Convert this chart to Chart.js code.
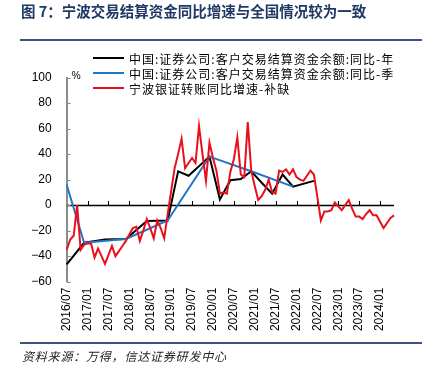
<!DOCTYPE html>
<html><head><meta charset="utf-8">
<script src="https://cdn.jsdelivr.net/npm/chart.js@4/dist/chart.umd.min.js"></script>
<style>
html,body{margin:0;padding:0;background:#fff;}
#wrap{position:relative;width:428px;height:379px;overflow:hidden;font-family:"Noto Sans CJK SC",sans-serif;}
#c{position:absolute;left:0;top:0;}
.title{position:absolute;left:21px;top:1px;font-size:14.5px;font-weight:bold;color:#1f3864;white-space:nowrap;line-height:20px;}
.rule{position:absolute;left:20px;width:402px;height:2px;background:#3b5282;}
.legend{position:absolute;left:93px;top:50.5px;font-size:12px;line-height:15px;color:#000;letter-spacing:1px;}
.legend div{display:flex;align-items:center;white-space:nowrap;height:15px;}
.legend span.sw{display:inline-block;width:31px;height:2px;margin-right:5px;}
.src{position:absolute;left:22px;top:348px;font-size:12px;line-height:16px;font-style:italic;color:#222;letter-spacing:0.8px;white-space:nowrap;}
</style></head>
<body>
<div id="wrap">
<canvas id="c" width="428" height="379" style="width:428px;height:379px;"></canvas>
<div class="title">图 7：宁波交易结算资金同比增速与全国情况较为一致</div>
<div class="rule" style="top:38.5px;"></div>
<div class="legend">
<div><span class="sw" style="background:#000"></span>中国:证券公司:客户交易结算资金余额:同比-年</div>
<div><span class="sw" style="background:#1f77c9"></span>中国:证券公司:客户交易结算资金余额:同比-季</div>
<div><span class="sw" style="background:#e8101e"></span>宁波银证转账同比增速-补缺</div>
</div>
<div class="rule" style="top:341.5px;"></div>
<div class="src">资料来源：万得，信达证券研发中心</div>
</div>
<script>
const labels = [
"2016/07","2016/08","2016/09","2016/10","2016/11","2016/12",
"2017/01","2017/02","2017/03","2017/04","2017/05","2017/06","2017/07","2017/08","2017/09","2017/10","2017/11","2017/12",
"2018/01","2018/02","2018/03","2018/04","2018/05","2018/06","2018/07","2018/08","2018/09","2018/10","2018/11","2018/12",
"2019/01","2019/02","2019/03","2019/04","2019/05","2019/06","2019/07","2019/08","2019/09","2019/10","2019/11","2019/12",
"2020/01","2020/02","2020/03","2020/04","2020/05","2020/06","2020/07","2020/08","2020/09","2020/10","2020/11","2020/12",
"2021/01","2021/02","2021/03","2021/04","2021/05","2021/06","2021/07","2021/08","2021/09","2021/10","2021/11","2021/12",
"2022/01","2022/02","2022/03","2022/04","2022/05","2022/06","2022/07","2022/08","2022/09","2022/10","2022/11","2022/12",
"2023/01","2023/02","2023/03","2023/04","2023/05","2023/06","2023/07","2023/08","2023/09","2023/10","2023/11","2023/12",
"2024/01","2024/02","2024/03","2024/04","2024/05"
];
const tickLabels = ["2016/07","2017/01","2017/07","2018/01","2018/07","2019/01","2019/07","2020/01","2020/07","2021/01","2021/07","2022/01","2022/07","2023/01","2023/07","2024/01"];

// 中国:证券公司:客户交易结算资金余额:同比-年 (sparse, month -> value)
const nationalYearly = {
"2016/07":-46.5,"2016/12":-29.5,"2017/06":-27,"2017/12":-26.5,"2018/06":-12.5,"2018/12":-12,
"2019/03":26.5,"2019/06":23,"2019/12":38,"2020/03":4.5,"2020/06":19.5,"2020/09":20.5,"2020/12":26.5,
"2021/03":17.5,"2021/06":9,"2021/09":24,"2021/12":14.5,"2022/06":19
};
// 中国:证券公司:客户交易结算资金余额:同比-季
const nationalQuarterly = {
"2016/07":16,"2016/12":-29.5,"2017/12":-26.5,"2018/12":-12,"2019/12":38,"2020/12":26.5,"2021/12":14.5
};
// 宁波银证转账同比增速-补缺 (monthly)
const ningbo = [
-35,-27,-24,0,-35,-31,-30,-30,-41,-34,-40,-46,-39,-32,-40,-36,-32,-28,
-23,-18,-17,-28,-20,-11,-18,-26,-12,-18,-26,-7,
11,29,40,52,29,33,37,33,62,40,19,49,
37,27,9,10,9,26,36,53,24,22,65,27,
15,4,7,12,20,10,9,27,26,28,24,28,
22,20,19,23,27,24,6,-12,-5,-5,-4,2,
-1,-4,0,4,-3,-9,-9,-11,-7,-4,-8,-8,
-13,-18,-14,-10,-8
];
const yTicks = [-60,-40,-20,0,20,40,60,80,100];

const toSeries = obj => labels.map(l => (l in obj) ? obj[l] : null);

const axisDeco = {
  id:'axisDeco',
  beforeDatasetsDraw(chart){
    const {ctx, chartArea:a, scales:{x,y}} = chart;
    const y0 = Math.round(y.getPixelForValue(0)) + 0.5;
    ctx.save();
    ctx.strokeStyle = '#000'; ctx.lineWidth = 1.3;
    ctx.beginPath(); ctx.moveTo(a.left, y0); ctx.lineTo(a.right, y0); ctx.stroke();
    ctx.lineWidth = 1;
    tickLabels.forEach(l => {
      const i = labels.indexOf(l);
      if (i > 0) {
        const px = Math.round(x.getPixelForValue(i)) + 0.5;
        ctx.beginPath(); ctx.moveTo(px, y0); ctx.lineTo(px, y0 - 4.5); ctx.stroke();
      }
    });
    ctx.strokeStyle = '#8c8c8c';
    yTicks.forEach(v => {
      const py = Math.round(y.getPixelForValue(v)) + 0.5;
      ctx.beginPath(); ctx.moveTo(a.left, py); ctx.lineTo(a.left + 4, py); ctx.stroke();
    });
    ctx.fillStyle = '#000'; ctx.font = '10px "Liberation Sans"';
    ctx.textBaseline = 'alphabetic'; ctx.textAlign = 'left';
    ctx.fillText('%', a.left + 5, a.top + 1.5);
    ctx.restore();
  }
};

new Chart(document.getElementById('c'), {
  type:'line',
  data:{
    labels: labels,
    datasets:[
      {label:'中国:证券公司:客户交易结算资金余额:同比-年', data: toSeries(nationalYearly), borderColor:'#000', borderWidth:2, pointRadius:0, spanGaps:true, tension:0, order:2},
      {label:'中国:证券公司:客户交易结算资金余额:同比-季', data: toSeries(nationalQuarterly), borderColor:'#1f77c9', borderWidth:2, pointRadius:0, spanGaps:true, tension:0, order:1},
      {label:'宁波银证转账同比增速-补缺', data: ningbo, borderColor:'#e8101e', borderWidth:2, pointRadius:0, tension:0, order:0}
    ]
  },
  options:{
    responsive:false, animation:false,
    layout:{padding:{top:77.5,right:34,bottom:0,left:0}},
    plugins:{legend:{display:false}, tooltip:{enabled:false}},
    scales:{
      x:{
        grid:{display:false, drawTicks:false}, border:{display:false},
        ticks:{autoSkip:false, maxRotation:90, minRotation:90, padding:6, color:'#000',
          font:{family:'"Liberation Sans", Arial, sans-serif', size:12},
          callback:(v,i) => tickLabels.includes(labels[i]) ? labels[i] : null},
        afterFit:s => { s.height = 97.3; }
      },
      y:{
        min:-60, max:100,
        afterBuildTicks:s => { s.ticks = yTicks.map(v => ({value:v})); },
        grid:{display:false, drawTicks:false},
        border:{display:true, color:'#8c8c8c', width:2},
        ticks:{padding:15, color:'#000', font:{family:'"Liberation Sans", Arial, sans-serif', size:12},
          callback:v => v < 0 ? '\u2212' + Math.abs(v) : String(v)},
        afterFit:s => { s.width = 66.7; }
      }
    }
  },
  plugins:[axisDeco]
});
</script>
</body></html>
